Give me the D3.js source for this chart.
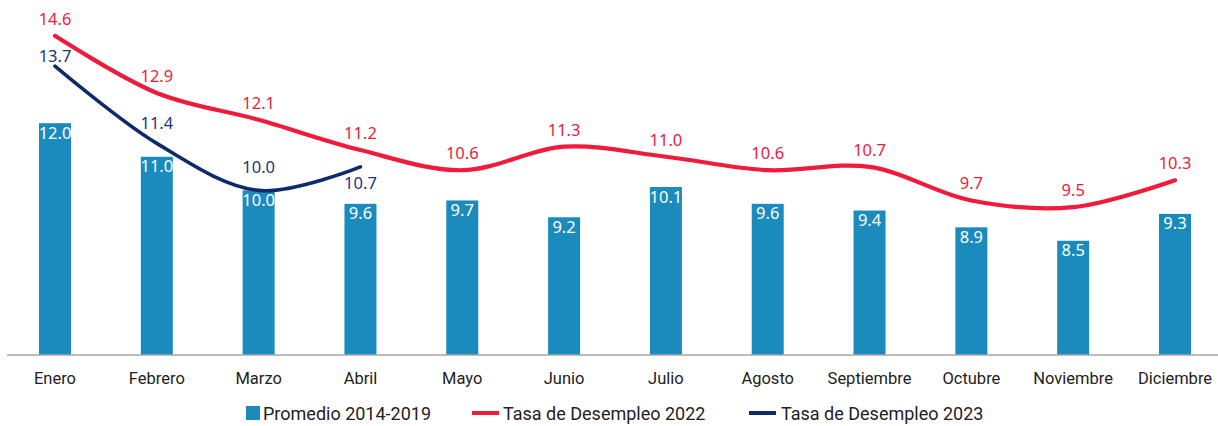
<!DOCTYPE html>
<html lang="es">
<head>
  <meta charset="UTF-8">
  <title>Tasa de desempleo mensual</title>
  <script src="https://d3js.org/d3.v7.min.js"></script>
  <style>
    body {
      margin: 0;
      background: #fff;
    }

    .month_label {
      font-family: Roboto, sans-serif;
      font-size: 16.5px;
      fill: #222;
    }

    .value_label {
      font-family: "Noto Sans", sans-serif;
      font-size: 16.5px;
    }

    .legend_text {
      font-family: Roboto, sans-serif;
      font-size: 18px;
      fill: #222;
    }
  </style>
</head>
<body>

<svg width="1218" height="426"></svg>

<script>
  const months = ["Enero", "Febrero", "Marzo", "Abril", "Mayo", "Junio", "Julio",
    "Agosto", "Septiembre", "Octubre", "Noviembre", "Diciembre"];
  const promedio = [12.0, 11.0, 10.0, 9.6, 9.7, 9.2, 10.1, 9.6, 9.4, 8.9, 8.5, 9.3];
  const tasa2022 = [14.6, 12.9, 12.1, 11.2, 10.6, 11.3, 11.0, 10.6, 10.7, 9.7, 9.5, 10.3];
  const tasa2023 = [13.7, 11.4, 10.0, 10.7];
  const legendLabels = ["Promedio 2014-2019", "Tasa de Desempleo 2022", "Tasa de Desempleo 2023"];

  const barColor = "#1b8bbe",
        redColor = "#f01a3b",
        navyColor = "#0f2a6b";

  let svg = d3.select("svg");

  let x = d3.scalePoint()
          .domain(months)
          .range([55, 1175]);

  let y = d3.scaleLinear()
          .domain([5.1, 15])
          .range([355, 22.4]);

  const barWidth = 32;

  // bars
  svg.append("g")
          .selectAll("rect")
          .data(promedio)
          .enter()
          .append("rect")
          .attr("x", (d, i) => x(months[i]) - barWidth / 2)
          .attr("y", d => y(d))
          .attr("width", barWidth)
          .attr("height", d => y(5.1) - y(d))
          .attr("fill", barColor);

  svg.append("g")
          .selectAll("text")
          .data(promedio)
          .enter()
          .append("text")
          .attr("class", "value_label")
          .attr("x", (d, i) => x(months[i]))
          .attr("y", d => y(d) + 15.5)
          .attr("text-anchor", "middle")
          .attr("fill", "#fff")
          .text(d => d.toFixed(1));

  // x axis line
  svg.append("line")
          .attr("x1", 7)
          .attr("x2", 1218)
          .attr("y1", y(5.1))
          .attr("y2", y(5.1))
          .attr("stroke", "#a6a6a6")
          .attr("stroke-width", 1.5);

  svg.append("g")
          .selectAll("text")
          .data(months)
          .enter()
          .append("text")
          .attr("class", "month_label")
          .attr("x", d => x(d))
          .attr("y", 384)
          .attr("text-anchor", "middle")
          .text(d => d);

  // lines
  const line = d3.line()
          .x((d, i) => x(months[i]))
          .y(d => y(d))
          .curve(d3.curveCatmullRom.alpha(0.5));

  svg.append("path")
          .attr("d", line(tasa2022))
          .attr("fill", "none")
          .attr("stroke", redColor)
          .attr("stroke-width", 4.2)
          .attr("stroke-linecap", "round");

  svg.append("path")
          .attr("d", line(tasa2023))
          .attr("fill", "none")
          .attr("stroke", navyColor)
          .attr("stroke-width", 3.6)
          .attr("stroke-linecap", "round");

  svg.append("g")
          .selectAll("text")
          .data(tasa2022)
          .enter()
          .append("text")
          .attr("class", "value_label")
          .attr("x", (d, i) => x(months[i]))
          .attr("y", d => y(d) - 11)
          .attr("text-anchor", "middle")
          .attr("fill", redColor)
          .text(d => d.toFixed(1));

  // label offsets picked by hand so they do not collide with the red line
  const navyDy = [-4, -14, -17, 22];
  svg.append("g")
          .selectAll("text")
          .data(tasa2023)
          .enter()
          .append("text")
          .attr("class", "value_label")
          .attr("x", (d, i) => x(months[i]))
          .attr("y", (d, i) => y(d) + navyDy[i])
          .attr("text-anchor", "middle")
          .attr("fill", "#1d3674")
          .text(d => d.toFixed(1));

  // legend
  let legend = svg.append("g").attr("transform", "translate(0,420)");

  legend.append("rect")
          .attr("x", 246)
          .attr("y", -14)
          .attr("width", 14)
          .attr("height", 14)
          .attr("fill", barColor);
  legend.append("text")
          .attr("class", "legend_text")
          .attr("x", 263)
          .attr("y", 0)
          .text(legendLabels[0]);

  legend.append("line")
          .attr("x1", 472).attr("x2", 499)
          .attr("y1", -7).attr("y2", -7)
          .attr("stroke", redColor)
          .attr("stroke-width", 4);
  legend.append("text")
          .attr("class", "legend_text")
          .attr("x", 503)
          .attr("y", 0)
          .text(legendLabels[1]);

  legend.append("line")
          .attr("x1", 749).attr("x2", 776)
          .attr("y1", -7).attr("y2", -7)
          .attr("stroke", navyColor)
          .attr("stroke-width", 4);
  legend.append("text")
          .attr("class", "legend_text")
          .attr("x", 781)
          .attr("y", 0)
          .text(legendLabels[2]);
</script>
</body>
</html>
